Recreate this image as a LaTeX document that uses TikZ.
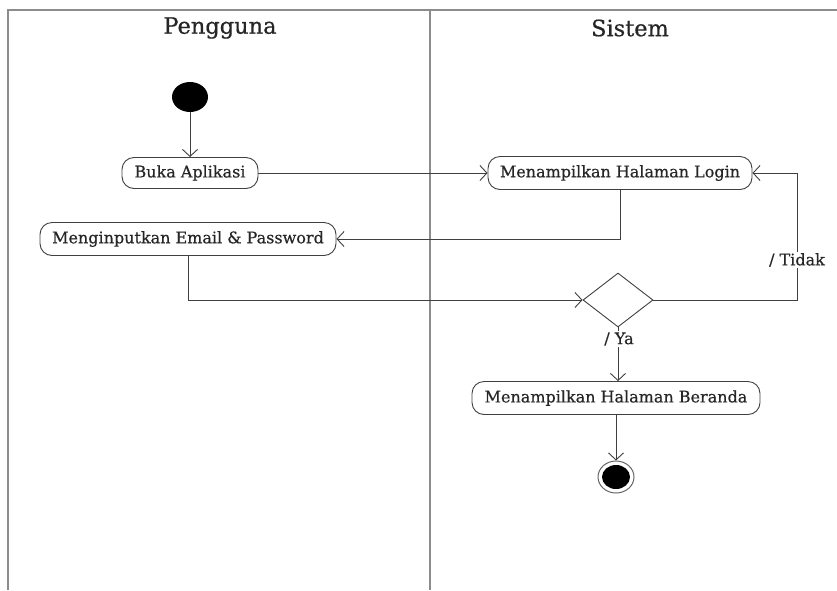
\documentclass[tikz,border=0pt]{standalone}
\usepackage{fontspec}
\setmainfont{DejaVu Serif}
\newfontfamily\lblfont[FakeBold=0.5]{DejaVu Serif}
\usetikzlibrary{arrows.meta,shapes.geometric}
\begin{document}
\begin{tikzpicture}[x=1pt,y=1pt,
  act/.style={draw=black!75, line width=0.9pt, rectangle, rounded corners=12pt, minimum height=33pt, inner sep=2pt, font=\lblfont\fontsize{16}{18}\selectfont, text=black!85, fill=white},
  flow/.style={draw=black!75, line width=0.9pt, -{Straight Barb[length=7pt,width=15pt,line width=0.9pt]}},
  lane/.style={draw=black!45, line width=2pt},
  lanetitle/.style={font=\lblfont\fontsize{22.5}{26}\selectfont, text=black!85},
  guard/.style={fill=white, inner sep=1pt, font=\lblfont\fontsize{16}{18}\selectfont, text=black!85}
]
\useasboundingbox (0,0) rectangle (837,-590);
\fill[white] (0,0) rectangle (837,-590);
% swimlanes
\draw[lane] (8,-590) -- (8,-10) -- (837,-10);
\draw[lane] (430,-10) -- (430,-590);
\node[lanetitle] (pengguna) at (220,-28) {Pengguna};
\node[lanetitle] (sistem) at (630,-28) {Sistem};
% nodes
\node[ellipse, fill=black, minimum width=36pt, minimum height=30pt, inner sep=0pt] (start) at (190,-97) {};
\node[act, minimum width=136pt, minimum height=31pt] (buka) at (190,-173) {Buka Aplikasi};
\node[act, minimum width=264pt] (login) at (620,-173) {Menampilkan Halaman Login};
\node[act, minimum width=296pt] (email) at (188,-239) {Menginputkan Email \& Password};
\node[diamond, draw=black!75, line width=0.9pt, fill=white, minimum width=70pt, minimum height=54pt, inner sep=0pt, aspect=1.3] (dec) at (618,-300) {};
\node[act, minimum width=288pt] (beranda) at (616,-398) {Menampilkan Halaman Beranda};
\node[ellipse, draw=black!60, line width=1pt, fill=white, minimum width=36pt, minimum height=32pt, inner sep=0pt] (end) at (616,-477) {};
\node[ellipse, fill=black, minimum width=28pt, minimum height=24pt, inner sep=0pt] (endin) at (end.center) {};
\coordinate (tc) at (797,-300);
% connectors
\draw[flow] (start) -- (buka);
\draw[flow] (buka) -- (login);
\draw[flow] (login.south) |- (email.east);
\draw[flow] (email.south) |- (dec.west);
\draw[flow] (dec.east) -- (tc) |- (login.east);
\node[guard] (tidak) at (797,-260) {/ Tidak};
\draw[flow] (dec.south) -- (dec.south |- beranda.north);
\node[guard] (ya) at (619,-339) {/ Ya};
\draw[flow] (beranda.south) -- (end.north);
\end{tikzpicture}
\end{document}
